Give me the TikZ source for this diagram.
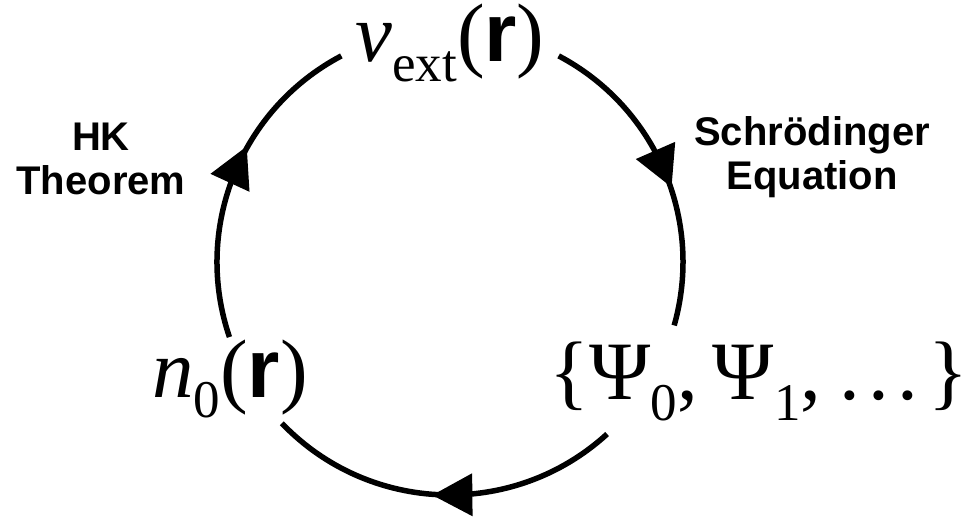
\documentclass[tikz,border=0pt]{standalone}
\usepackage{fontspec}
\setmainfont{Liberation Serif}
\setsansfont{Liberation Sans}
\usetikzlibrary{decorations.markings,calc}
\newcommand{\mysub}[1]{\raisebox{-20pt}{\fontsize{53}{53}\selectfont #1}}
\newcommand{\bfr}{\textsf{\bfseries r}}
\begin{document}
\begin{tikzpicture}[x=1pt,y=1pt,
  cyc/.style={line width=5.5pt},
  mathlbl/.style={inner sep=0pt, anchor=base, font=\fontsize{83}{83}\selectfont},
  steplbl/.style={inner sep=0pt, anchor=base, align=center, font=\sffamily\bfseries\fontsize{40}{44}\selectfont},
  midarrow/.style={postaction={decorate}, decoration={markings, mark=at position #1 with {\fill (20,0) -- (-20,21.5) -- (-20,-21.5) -- cycle;}}}]
\useasboundingbox (0,0) rectangle (962,520);
\coordinate (c) at (450,258);
% text nodes
\node[mathlbl] (vext) at (450,458) {{\itshape v}\mysub{ext}(\bfr)};
\node[mathlbl] (n0) at (230,122) {{\itshape n}\mysub{0}(\bfr)};
\node[mathlbl] (psi) at (759,120) {\{Ψ\mysub{0},\kern15ptΨ\mysub{1},\kern18pt.\kern8.5pt.\kern8.5pt.\kern10pt\}};
\node[steplbl] (hk) at (101,325) {HK\\Theorem};
\node[steplbl] (se) at (812,330) {Schrödinger\\Equation};
% arc end points
\coordinate (a1) at ($(c)+(198.8:233)$);
\coordinate (a2) at ($(c)+(62.2:233)$);
\coordinate (a3) at ($(c)+(312.4:233)$);
% arcs
\draw[cyc, midarrow=0.537] (a1) arc[start angle=198.8, end angle=117.8, radius=233];
\draw[cyc, midarrow=0.495] (a2) arc[start angle=62.2, end angle=-15.8, radius=233];
\draw[cyc, midarrow=0.472] (a3) arc[start angle=312.4, end angle=223.8, radius=233];
\end{tikzpicture}
\end{document}
